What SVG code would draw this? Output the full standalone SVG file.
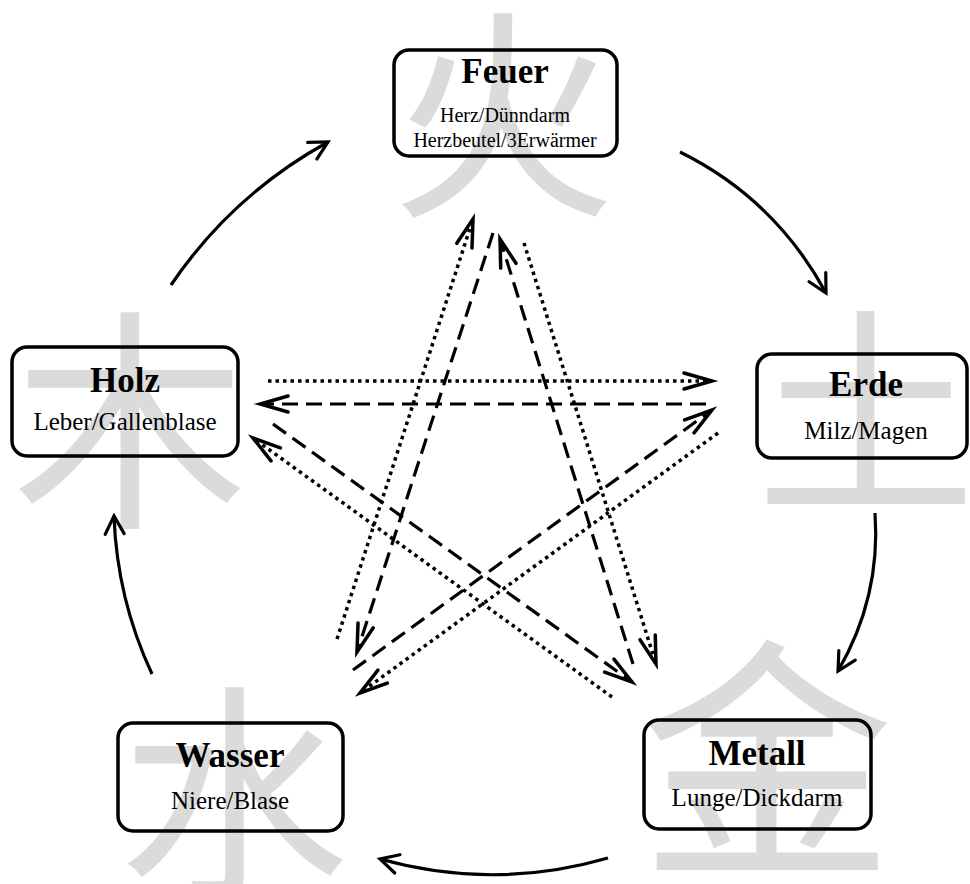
<svg xmlns="http://www.w3.org/2000/svg" width="970" height="884" viewBox="0 0 970 884">
<defs>
<style>
.bg{font-family:"Noto Sans CJK SC","Noto Sans CJK TC",sans-serif;fill:#dbdbdb;text-anchor:middle}
.box{fill:none;stroke:#000;stroke-width:3.5}
.t{font-family:"Liberation Serif",serif;font-weight:bold;font-size:35px;text-anchor:middle;fill:#000}
.s{font-family:"Liberation Serif",serif;font-size:25px;text-anchor:middle;fill:#000}
.s2{font-family:"Liberation Serif",serif;font-size:20px;text-anchor:middle;fill:#000}
.arc{fill:none;stroke:#000;stroke-width:3.2;marker-end:url(#ah)}
.dot{fill:none;stroke:#000;stroke-width:3.5;stroke-dasharray:3.5 4;marker-end:url(#sh)}
.dash{fill:none;stroke:#000;stroke-width:3.2;stroke-dasharray:16 8;marker-end:url(#sh)}
</style>
<marker id="ah" markerUnits="userSpaceOnUse" markerWidth="30" markerHeight="30" viewBox="-25 -15 30 30" refX="0" refY="0" orient="auto" overflow="visible">
<path d="M-18,-9.5 L0,0 L-18,9.5" fill="none" stroke="#000" stroke-width="3.2" stroke-dasharray="none" stroke-linecap="round"/>
</marker>
<marker id="sh" markerUnits="userSpaceOnUse" markerWidth="40" markerHeight="30" viewBox="-35 -15 40 30" refX="0" refY="0" orient="auto" overflow="visible">
<path d="M-28,-8 L0,0 L-28,8" fill="none" stroke="#000" stroke-width="3.5" stroke-dasharray="none" stroke-linecap="round"/>
</marker>
</defs>
<rect width="970" height="884" fill="#fff"/>
<g id="background">
<text class="bg" x="503" y="200" font-size="225">火</text>
<text class="bg" x="130" y="510" font-size="235">木</text>
<text class="bg" x="866" y="496" font-size="220">土</text>
<text class="bg" x="767" y="856" font-size="255">金</text>
<text class="bg" x="234" y="880" font-size="230">水</text>
</g>
<g id="connectors">
<path class="arc" d="M171,285 Q232,195 328,142"/>
<path class="arc" d="M680,152 Q775,199 826,293"/>
<path class="arc" d="M875,513 Q881,597 838,671"/>
<path class="arc" d="M608,858 Q494,891 380,859"/>
<path class="arc" d="M152,674 Q117,599 114,516"/>
<line class="dot" x1="268" y1="381" x2="712" y2="381"/>
<line class="dash" x1="706" y1="404" x2="260" y2="404"/>
<line class="dash" x1="273" y1="424" x2="632" y2="682"/>
<line class="dot" x1="612" y1="697" x2="253" y2="438"/>
<line class="dash" x1="353" y1="670" x2="712" y2="410"/>
<line class="dot" x1="718" y1="433" x2="360" y2="693"/>
<line class="dot" x1="337" y1="639" x2="473" y2="219"/>
<line class="dash" x1="493" y1="233" x2="357" y2="652"/>
<line class="dash" x1="633" y1="664" x2="500" y2="239"/>
<line class="dot" x1="524" y1="243" x2="656" y2="664"/>
</g>
<g id="feuer">
<rect class="box" x="394" y="50" width="223" height="106" rx="15"/>
<text class="t" x="505" y="83">Feuer</text>
<text class="s2" x="505" y="122">Herz/Dünndarm</text>
<text class="s2" x="505" y="147">Herzbeutel/3Erwärmer</text>
</g>
<g id="holz">
<rect class="box" x="12" y="347" width="226" height="109" rx="15"/>
<text class="t" x="125" y="392">Holz</text>
<text class="s" x="125" y="430">Leber/Gallenblase</text>
</g>
<g id="erde">
<rect class="box" x="757" y="354" width="210" height="104" rx="15"/>
<text class="t" x="866" y="396">Erde</text>
<text class="s" x="866" y="439">Milz/Magen</text>
</g>
<g id="wasser">
<rect class="box" x="118" y="723" width="225" height="108" rx="15"/>
<text class="t" x="230" y="767">Wasser</text>
<text class="s" x="230" y="809">Niere/Blase</text>
</g>
<g id="metall">
<rect class="box" x="644" y="720" width="227" height="109" rx="15"/>
<text class="t" x="757" y="765">Metall</text>
<text class="s" x="757" y="806">Lunge/Dickdarm</text>
</g>
</svg>
